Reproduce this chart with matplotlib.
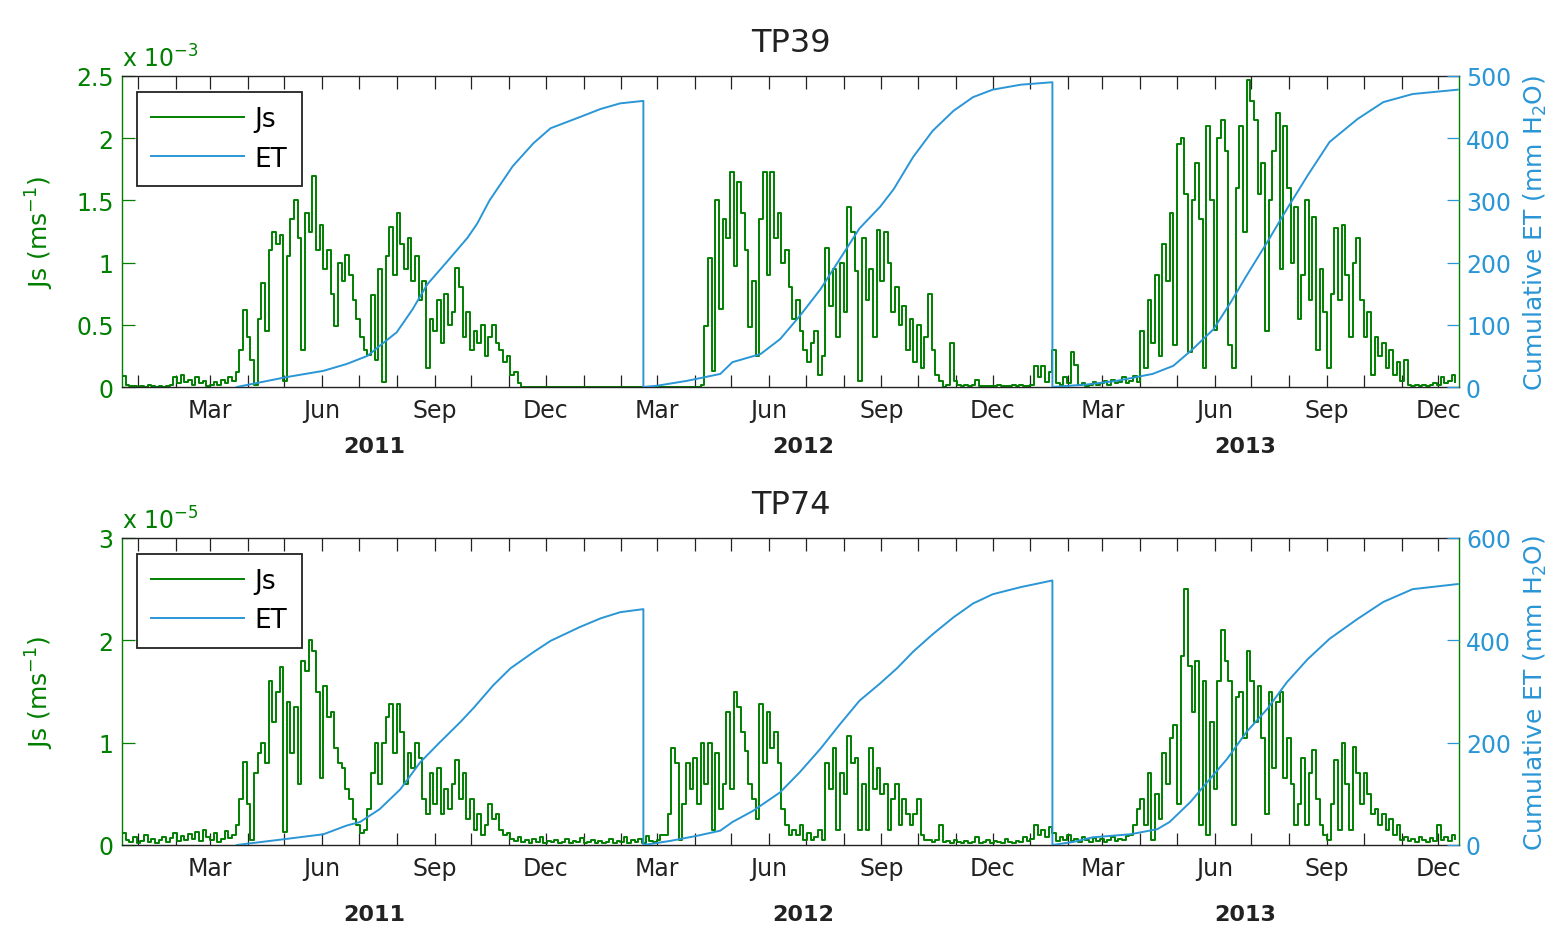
import datetime
import numpy as np
import matplotlib
matplotlib.use('Agg')
import matplotlib.pyplot as plt
from matplotlib.ticker import FormatStrFormatter

plt.rcParams['font.family'] = 'DejaVu Sans'

GREEN = '#007f00'
BLUE = '#2a96d6'

# sap flux Js, one value per 3 days starting 2010-12-19 (day -13 from 2011-01-01)
# TP39 in 1e-3 m/s
js_tp39 = [
    0.09, 0.02, 0.01, 0.01, 0.00, 0.01, 0.00, 0.02, 0.01, 0.00,
    0.01, 0.00, 0.01, 0.02, 0.08, 0.03, 0.10, 0.04, 0.06, 0.02,
    0.08, 0.03, 0.05, 0.01, 0.02, 0.04, 0.02, 0.06, 0.03, 0.08,
    0.05, 0.12, 0.30, 0.62, 0.40, 0.22, 0.02, 0.55, 0.84, 0.45,
    1.10, 1.25, 1.15, 1.22, 0.05, 1.05, 1.35, 1.50, 1.20, 0.30,
    1.40, 1.25, 1.70, 1.10, 1.30, 0.95, 1.10, 0.75, 0.49, 1.00,
    0.85, 1.06, 0.90, 0.70, 0.55, 0.40, 0.30, 0.26, 0.74, 0.22,
    0.95, 0.04, 1.05, 1.29, 0.90, 1.40, 1.15, 0.95, 1.20, 0.85,
    1.05, 0.70, 0.85, 0.15, 0.55, 0.45, 0.70, 0.35, 0.75, 0.50,
    0.60, 0.96, 0.80, 0.40, 0.60, 0.30, 0.45, 0.35, 0.50, 0.25,
    0.40, 0.50, 0.35, 0.30, 0.20, 0.25, 0.10, 0.12, 0.03, 0.00,
    0.00, 0.00, 0.00, 0.00, 0.00, 0.00, 0.00, 0.00, 0.00, 0.00,
    0.00, 0.00, 0.00, 0.00, 0.00, 0.00, 0.00, 0.00, 0.00, 0.00,
    0.00, 0.00, 0.00, 0.00, 0.00, 0.00, 0.00, 0.00, 0.00, 0.00,
    0.00, 0.00, 0.00, 0.00, 0.00, 0.00, 0.00, 0.00, 0.00, 0.00,
    0.00, 0.00, 0.00, 0.00, 0.00, 0.00, 0.00, 0.00, 0.02, 0.49,
    1.04, 0.13, 1.50, 0.63, 1.35, 1.20, 1.73, 0.97, 1.65, 1.40,
    1.10, 0.48, 0.85, 0.25, 1.35, 1.73, 0.90, 1.73, 1.20, 1.40,
    1.00, 1.10, 0.80, 0.55, 0.70, 0.45, 0.30, 0.20, 0.35, 0.45,
    0.10, 0.25, 1.12, 0.65, 0.95, 0.40, 1.00, 0.60, 1.45, 1.25,
    0.93, 0.05, 1.20, 0.70, 0.95, 0.40, 1.26, 0.85, 1.25, 1.00,
    0.60, 0.80, 0.50, 0.65, 0.30, 0.55, 0.20, 0.50, 0.15, 0.40,
    0.75, 0.30, 0.10, 0.05, 0.00, 0.02, 0.35, 0.05, 0.02, 0.01,
    0.02, 0.01, 0.02, 0.06, 0.01, 0.01, 0.01, 0.01, 0.01, 0.02,
    0.01, 0.01, 0.01, 0.02, 0.01, 0.02, 0.01, 0.01, 0.02, 0.17,
    0.08, 0.17, 0.04, 0.12, 0.30, 0.03, 0.02, 0.08, 0.03, 0.28,
    0.18, 0.02, 0.03, 0.01, 0.02, 0.04, 0.02, 0.03, 0.05, 0.02,
    0.06, 0.03, 0.04, 0.08, 0.03, 0.05, 0.09, 0.04, 0.45, 0.15,
    0.70, 0.35, 0.90, 0.25, 1.15, 0.85, 1.40, 0.34, 1.95, 2.00,
    1.55, 0.28, 1.50, 1.80, 1.35, 0.15, 2.10, 1.50, 0.46, 2.00,
    2.15, 1.90, 0.34, 0.15, 1.60, 2.10, 1.25, 2.47, 2.30, 2.15,
    1.55, 1.80, 0.45, 1.50, 1.90, 2.20, 0.95, 2.10, 1.60, 1.00,
    1.45, 0.55, 0.90, 1.50, 0.70, 1.37, 0.30, 0.95, 0.60, 0.15,
    0.75, 1.28, 0.70, 1.30, 0.90, 0.40, 1.00, 1.20, 0.70, 0.40,
    0.60, 0.10, 0.40, 0.25, 0.35, 0.15, 0.30, 0.10, 0.20, 0.05,
    0.22, 0.02, 0.01, 0.02, 0.01, 0.02, 0.01, 0.02, 0.03, 0.02,
    0.08, 0.03, 0.05, 0.10, 0.04,
]

# TP74 in 1e-5 m/s
js_tp74 = [
    0.12, 0.05, 0.03, 0.08, 0.02, 0.04, 0.10, 0.03, 0.06, 0.02,
    0.05, 0.08, 0.03, 0.07, 0.12, 0.04, 0.09, 0.05, 0.11, 0.06,
    0.13, 0.04, 0.15, 0.08, 0.05, 0.12, 0.03, 0.06, 0.14, 0.07,
    0.10, 0.20, 0.45, 0.81, 0.40, 0.05, 0.70, 0.90, 1.00, 0.80,
    1.60, 1.20, 1.50, 1.74, 0.13, 1.40, 0.90, 1.35, 0.60, 1.80,
    1.70, 2.00, 1.90, 1.50, 0.65, 1.55, 1.25, 1.30, 0.95, 0.80,
    0.75, 0.55, 0.45, 0.25, 0.20, 0.12, 0.15, 0.35, 0.70, 1.00,
    0.60, 1.00, 1.25, 1.38, 0.90, 1.38, 1.10, 0.60, 0.90, 0.75,
    1.00, 0.85, 0.45, 0.30, 0.70, 0.40, 0.75, 0.30, 0.55, 0.35,
    0.60, 0.83, 0.45, 0.70, 0.25, 0.45, 0.15, 0.30, 0.10, 0.20,
    0.40, 0.25, 0.30, 0.15, 0.10, 0.12, 0.06, 0.04, 0.08, 0.03,
    0.05, 0.02, 0.06, 0.03, 0.08, 0.02, 0.04, 0.03, 0.05, 0.02,
    0.03, 0.06, 0.02, 0.04, 0.03, 0.07, 0.02, 0.03, 0.05, 0.02,
    0.04, 0.02, 0.03, 0.06, 0.02, 0.04, 0.03, 0.08, 0.02, 0.05,
    0.03, 0.06, 0.02, 0.09, 0.04, 0.03, 0.05, 0.10, 0.10, 0.30,
    0.95, 0.80, 0.05, 0.40, 0.80, 0.55, 0.85, 0.40, 1.00, 0.60,
    1.00, 0.15, 0.90, 0.35, 0.60, 1.30, 0.55, 1.50, 1.35, 1.10,
    0.92, 0.60, 0.45, 0.25, 1.38, 0.80, 1.30, 0.95, 1.10, 0.80,
    0.35, 0.20, 0.10, 0.15, 0.10, 0.20, 0.05, 0.12, 0.05, 0.08,
    0.15, 0.05, 0.80, 0.55, 0.95, 0.15, 0.70, 0.50, 1.07, 0.80,
    0.85, 0.15, 0.60, 0.15, 0.95, 0.55, 0.75, 0.50, 0.60, 0.15,
    0.45, 0.60, 0.20, 0.45, 0.30, 0.20, 0.30, 0.45, 0.10, 0.05,
    0.05, 0.03, 0.05, 0.20, 0.03, 0.04, 0.02, 0.05, 0.03, 0.02,
    0.04, 0.02, 0.03, 0.08, 0.02, 0.03, 0.05, 0.02, 0.04, 0.03,
    0.02, 0.06, 0.03, 0.02, 0.04, 0.03, 0.08, 0.04, 0.06, 0.20,
    0.10, 0.15, 0.08, 0.18, 0.12, 0.04, 0.08, 0.05, 0.10, 0.04,
    0.06, 0.03, 0.08, 0.05, 0.03, 0.07, 0.04, 0.06, 0.03, 0.05,
    0.08, 0.04, 0.06, 0.05, 0.09, 0.10, 0.20, 0.35, 0.45, 0.20,
    0.70, 0.05, 0.50, 0.25, 0.90, 0.60, 1.05, 1.17, 0.40, 1.85,
    2.50, 1.75, 1.30, 1.80, 0.20, 1.60, 0.10, 1.20, 0.55, 1.60,
    2.10, 1.80, 1.60, 0.20, 1.45, 1.50, 1.05, 1.90, 1.60, 1.20,
    1.55, 1.05, 0.30, 1.50, 0.75, 1.40, 1.50, 0.65, 1.05, 0.60,
    0.20, 0.40, 0.85, 0.20, 0.70, 0.93, 0.45, 0.20, 0.10, 0.05,
    0.40, 0.83, 0.15, 1.00, 0.60, 0.15, 0.96, 0.70, 0.40, 0.70,
    0.50, 0.30, 0.35, 0.20, 0.30, 0.15, 0.25, 0.10, 0.20, 0.05,
    0.08, 0.04, 0.06, 0.03, 0.08, 0.05, 0.03, 0.07, 0.04, 0.20,
    0.05, 0.08, 0.04, 0.10, 0.06,
]

# cumulative ET (mm H2O), day since 2011-01-01, resets each year
et_tp39_day = [81, 122, 152, 171, 188, 198, 212, 225, 237, 253, 270, 278, 288, 307, 324, 338, 362, 379, 395, 414,
               414, 425, 450, 477, 487, 510, 526, 542, 559, 575, 591, 608, 619, 635, 651, 668, 684, 700, 723, 749,
               749, 777, 802, 831, 848, 864, 881, 895, 908, 925, 941, 958, 976, 999, 1020, 1044, 1081]
et_tp39 = [0, 16, 26, 37, 50, 66, 88, 125, 165, 201, 240, 263, 300, 355, 392, 416, 434, 447, 456, 460,
           0, 2, 10, 21, 40, 53, 77, 114, 157, 206, 255, 290, 318, 370, 412, 444, 466, 478, 486, 490,
           0, 4, 10, 21, 34, 61, 93, 136, 179, 233, 286, 340, 394, 431, 458, 471, 478]

et_tp74_day = [81, 98, 122, 152, 171, 182, 198, 215, 231, 247, 264, 275, 291, 305, 324, 338, 362, 379, 395, 414,
               414, 436, 458, 477, 487, 504, 526, 542, 559, 575, 591, 608, 622, 635, 651, 668, 684, 700, 723, 749,
               749, 766, 782, 813, 835, 845, 862, 878, 892, 908, 925, 941, 958, 976, 999, 1020, 1044, 1081]
et_tp74 = [0, 5, 12, 21, 38, 45, 70, 109, 161, 200, 240, 268, 312, 345, 377, 399, 426, 443, 455, 461,
           0, 8, 18, 28, 45, 67, 103, 142, 188, 236, 282, 316, 346, 378, 412, 445, 472, 490, 504, 517,
           0, 6, 15, 21, 31, 45, 84, 129, 168, 221, 266, 318, 363, 403, 442, 475, 500, 510]

years = ['2011', '2012', '2013']
year_label_day = [194, 545, 907]
month_names = {3: 'Mar', 6: 'Jun', 9: 'Sep', 12: 'Dec'}


def month_ticks():
    t0 = datetime.date(2011, 1, 1)
    ticks, labels = [], []
    for y in (2011, 2012, 2013):
        for m in range(1, 13):
            ticks.append((datetime.date(y, m, 1) - t0).days)
            labels.append(month_names.get(m, ''))
    return ticks, labels


def panel(ax, js, et_day, et, title, js_max, js_step, expo, et_max, et_step, year_off):
    x = -13 + 3 * np.arange(len(js))
    l1, = ax.plot(x, js, color=GREEN, lw=1.4, drawstyle='steps-post', label='Js')
    ax.set_xlim(-13, 1082)
    ax.set_ylim(0, js_max)
    ax.set_yticks(np.arange(0, js_max + 1e-9, js_step))
    ax.yaxis.set_major_formatter(FormatStrFormatter('%g'))
    ticks, labels = month_ticks()
    ax.set_xticks(ticks, labels)
    ax.tick_params(axis='x', direction='in', length=9, width=0.9, top=True,
                   labelsize=17, pad=8, colors='#222222')
    ax.tick_params(axis='y', direction='in', length=9, width=0.9, colors=GREEN,
                   labelsize=17, pad=6)
    for s in ('left', 'right'):
        ax.spines[s].set_color(GREEN)
    for s in ('top', 'bottom'):
        ax.spines[s].set_color('#222222')
    for s in ax.spines.values():
        s.set_linewidth(1.0)
    ax.set_ylabel('Js (ms$^{-1}$)', color=GREEN, fontsize=18)
    ax.yaxis.set_label_coords(-0.049, 0.5)
    ax.text(0.0, 1.015, 'x 10$^{%d}$' % expo, transform=ax.transAxes, color=GREEN,
            fontsize=17, ha='left', va='bottom')
    ax.set_title(title, fontsize=23, color='#222222', pad=18)

    ax2 = ax.twinx()
    l2, = ax2.plot(et_day, et, color=BLUE, lw=1.4, label='ET')
    ax2.set_ylim(0, et_max)
    ax2.set_yticks(np.arange(0, et_max + 1, et_step))
    ax2.tick_params(axis='y', direction='in', length=9, width=0.9, colors=BLUE,
                    labelsize=17, pad=5)
    for s in ax2.spines.values():
        s.set_visible(False)
    ax2.set_ylabel('Cumulative ET (mm H$_2$O)', color=BLUE, fontsize=18)
    ax2.yaxis.set_label_coords(1.047, 0.5)

    leg = ax2.legend([l1, l2], ['Js', 'ET'], loc='upper left', bbox_to_anchor=(0.0112, 0.949),
                     borderaxespad=0, fontsize=19, frameon=True, fancybox=False,
                     framealpha=1, edgecolor='#222222', handlelength=3.5,
                     handletextpad=0.4, borderpad=0.55, labelspacing=0.5)
    leg.get_frame().set_linewidth(1.3)

    for d, y in zip(year_label_day, years):
        ax.annotate(y, xy=(d, 0), xycoords=('data', 'axes fraction'),
                    xytext=(0, -year_off), textcoords='offset points',
                    ha='center', va='center', fontsize=16, fontweight='bold', color='#222222')


fig = plt.figure(figsize=(15.57, 9.28), dpi=100)
ax_top = fig.add_axes([122 / 1557, 1 - 388 / 928, 1337 / 1557, 311 / 928])
ax_bot = fig.add_axes([122 / 1557, 1 - 846 / 928, 1337 / 1557, 307 / 928])

panel(ax_top, js_tp39, et_tp39_day, et_tp39, 'TP39', 2.5, 0.5, -3, 500, 100, 42.5)
panel(ax_bot, js_tp74, et_tp74_day, et_tp74, 'TP74', 3, 1, -5, 600, 200, 49.7)

fig.savefig('out.png', dpi=100)
